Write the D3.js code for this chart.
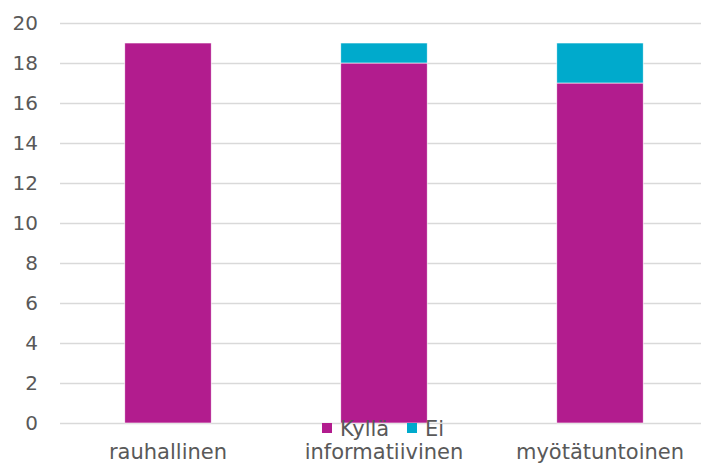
<!DOCTYPE html>
<meta charset="utf-8">
<style>
body { margin: 0; background: #fff; }
text { font-family: "DejaVu Sans", sans-serif; fill: #595959; }
</style>
<body>
<script src="https://d3js.org/d3.v7.min.js"></script>
<script>

var width = 701,
    height = 463;

var categories = ["rauhallinen", "informatiivinen", "myötätuntoinen"];
var kylla = [19, 18, 17];
var ei = [0, 1, 2];
var seriesNames = ["Kyllä", "Ei"];
var colors = ["#b21c8e", "#00aacc"];
var yTicks = [0, 2, 4, 6, 8, 10, 12, 14, 16, 18, 20];

var svg = d3.select("body").append("svg")
    .attr("width", width)
    .attr("height", height);

var x = d3.scaleBand()
    .domain(categories)
    .range([60, 708])
    .paddingInner(0.6)
    .paddingOuter(0.3);

var y = d3.scaleLinear()
    .domain([0, 20])
    .range([423, 23]);

// gridlines
svg.append("g").selectAll("line")
    .data(yTicks)
  .enter().append("line")
    .attr("x1", 60)
    .attr("x2", width)
    .attr("y1", d => y(d) + 0.5)
    .attr("y2", d => y(d) + 0.5)
    .attr("stroke", "#d9d9d9")
    .attr("stroke-width", 1.5);

// y labels
svg.append("g").selectAll("text")
    .data(yTicks)
  .enter().append("text")
    .attr("x", 38)
    .attr("y", d => y(d))
    .attr("dy", "0.36em")
    .attr("text-anchor", "end")
    .style("font-size", "20px")
    .text(d => d);

var stacked = d3.stack().keys([0, 1])(categories.map((c, i) => ({0: kylla[i], 1: ei[i], cat: c})));

svg.append("g").selectAll("g")
    .data(stacked)
  .enter().append("g")
    .attr("fill", (d, i) => colors[i])
  .selectAll("rect")
    .data(d => d)
  .enter().append("rect")
    .attr("x", d => x(d.data.cat))
    .attr("width", x.bandwidth())
    .attr("y", d => y(d[1]))
    .attr("height", d => y(d[0]) - y(d[1]))
    .attr("stroke", "#fff")
    .attr("stroke-width", 0.6);

// category labels
svg.append("g").selectAll("text")
    .data(categories)
  .enter().append("text")
    .attr("x", d => x(d) + x.bandwidth() / 2)
    .attr("y", 459)
    .attr("text-anchor", "middle")
    .style("font-size", "21px")
    .text(d => d);

// legend
var legendX = [322, 407];
var lg = svg.append("g").selectAll("g")
    .data(seriesNames)
  .enter().append("g")
    .attr("transform", (d, i) => "translate(" + legendX[i] + ",423)");
lg.append("rect")
    .attr("width", 10)
    .attr("height", 10)
    .attr("fill", (d, i) => colors[i]);
lg.append("text")
    .attr("x", 18)
    .attr("y", 5)
    .attr("dy", "0.36em")
    .style("font-size", "21px")
    .text(d => d);

</script>
